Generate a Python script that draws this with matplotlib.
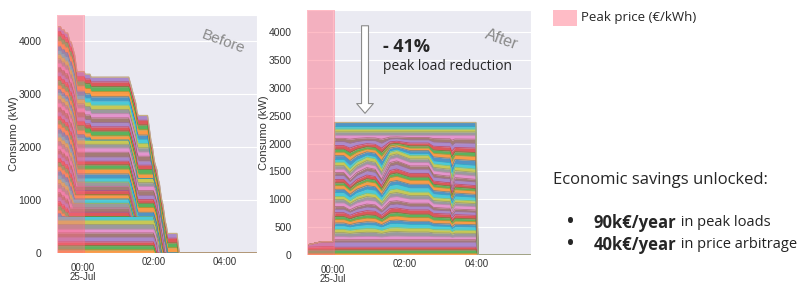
import matplotlib
matplotlib.use("Agg")
import matplotlib.pyplot as plt
from matplotlib.patches import Rectangle
import numpy as np
import seaborn as sns

# ---- Before: each charging session as (power kW, end hour rel. to 00:00), bottom -> top
before_power = [60, 80, 70, 90, 80, 70, 90, 80, 70,
                60, 60, 80, 80, 90, 80, 80, 90, 80, 80, 80, 80, 80, 80, 80, 80, 80, 80, 80, 75,
                80, 90, 80, 70, 80, 90, 80, 70, 80,
                50, 55,
                80, 90, 80, 80, 90, 80, 80, 80, 80, 80,
                100, 90, 90, 90]
before_end = [2.02, 2.05, 2.08, 2.10, 2.12, 2.14, 2.16, 2.18, 2.20,
              -0.62, -0.52, -0.42, 1.30, -0.38, 1.34, -0.34, 1.38, -0.30, 1.42, -0.27, 1.45,
              -0.24, 1.48, -0.22, 1.50, -0.20, 1.52, -0.19, 1.54,
              2.22, 2.24, 2.26, 2.28, 2.30, 2.32, 2.34, 2.36, 2.37,
              0.05, 0.20,
              2.00, 1.98, 1.96, 1.94, 1.92, 1.90, 1.88, 1.86, 1.85, 1.84,
              2.66, 2.68, 2.70, 2.72]

# ---- After: capped profile, layers shift around inside the cap
after_t = [-0.72, -0.3, 0.0, 0.05, 0.30, 0.47, 0.66, 0.94, 1.17, 1.35, 1.58, 1.77,
           2.14, 2.65, 2.79, 3.16, 3.25, 3.30, 3.39, 3.94, 3.97, 4.03, 5.5]
after_on = [0, 0, 0, 1, 1, 1, 1, 1, 1, 1, 1, 1, 1, 1, 1, 1, 1, 1, 1, 1, 1, 0, 0]
after_shift = [0, 0, 0, 0, 0, -120, 0, 90, 60, -120, 180, 210,
               120, 120, -30, -60, -60, -270, -90, -120, -120, 0, 0]
after_power = [30, 60, 50, 90, 45, 55, 70, 60, 65, 50,
               60, 55, 70, 60, 50, 65, 60, 55, 70, 60,
               65, 50, 60, 70, 55, 60, 65, 60, 50, 70,
               60, 55, 65, 70, 60, 55, 60, 50, 45, 75]
after_gain = [0] * 5 + [0.05] * 20 + [0] * 3 + [-0.125] * 8 + [0] * 4
after_pre = [[30, 60, 50, 40], [30, 60, 60, 90], [30, 60, 60, 90]]

peak_start, peak_end = -1.0, 0.05
tick_labels = ["00:00\n25-Jul", "02:00", "04:00"]

sns.set_style("darkgrid")
plt.rcParams["font.family"] = ["Liberation Sans", "DejaVu Sans"]
palette = list(plt.cm.tab10.colors)
PINK = "#ff6b81"
TXT = "Open Sans"


def draw_stack(ax, t, layers):
    colors = [palette[(i + 1) % 10] for i in range(len(layers))]
    ax.stackplot(t, layers, colors=colors, alpha=0.75, lw=0)
    tops = np.cumsum(layers, axis=0)
    for i, top in enumerate(tops):
        ax.plot(t, top, color=colors[i], lw=0.6, alpha=0.6)
    # blended outline of the whole stack
    ax.plot(t, tops[-1], color="#c8b07a", lw=0.9, alpha=0.9)


def style_axes(ax, xlim, ylim, yticks):
    ax.axvspan(peak_start, peak_end, color=PINK, alpha=0.45, lw=0, zorder=5)
    ax.set_xlim(*xlim)
    ax.set_ylim(*ylim)
    ax.set_yticks(yticks)
    ax.set_xticks([0])
    ax.set_xticklabels(tick_labels[:1], linespacing=0.95)
    ax.set_xticks([2, 4], minor=True)
    ax.set_xticklabels(tick_labels[1:], minor=True)
    ax.tick_params(axis="x", which="major", pad=7, labelsize=7, colors=".2", length=0)
    ax.tick_params(axis="x", which="minor", pad=3, labelsize=7, colors=".2", length=0)
    ax.tick_params(axis="y", pad=11, labelsize=7.5, colors=".2", length=0)
    ax.set_ylabel("Consumo (kW)", fontsize=8, color=".2", labelpad=0)


fig = plt.figure(figsize=(8, 2.84), dpi=100)

# Before
ax1 = fig.add_axes([57 / 800, 31 / 284, 200 / 800, 238 / 284])
t_b = np.arange(-0.74, 4.93 + 1e-9, 1 / 30)
before_layers = np.array([p * (t_b < e) for p, e in zip(before_power, before_end)])
draw_stack(ax1, t_b, before_layers)
style_axes(ax1, (-0.74, 4.93), (0, 4500), [0, 1000, 2000, 3000, 4000])
ax1.text(0.83, 0.885, "Before", transform=ax1.transAxes, rotation=-20, fontsize=11,
         color="#8a8a8a", ha="center", va="center")

# After
ax2 = fig.add_axes([307 / 800, 29 / 284, 224 / 800, 245 / 284])
t_a = np.array(after_t)
on = np.array(after_on, dtype=float)
after_layers = np.outer(on, after_power) + np.outer(on * np.array(after_shift), after_gain)
after_layers[:3, :4] = after_pre
draw_stack(ax2, t_a, after_layers.T)
style_axes(ax2, (-0.72, 5.5), (0, 4400), list(range(0, 4001, 500)))
ax2.text(0.87, 0.88, "After", transform=ax2.transAxes, rotation=-20, fontsize=11.5,
         color="#8a8a8a", ha="center", va="center", clip_on=True)
ax2.annotate("", xy=(0.259, 0.567), xytext=(0.259, 0.947), xycoords="axes fraction",
             arrowprops=dict(arrowstyle="simple,head_width=1.2,tail_width=0.5,head_length=0.7",
                             fc="white", ec="#8a8a8a", lw=0.8), zorder=6)
ax2.text(0.339, 0.849, "- 41%", transform=ax2.transAxes, fontsize=13, fontweight="bold",
         family=TXT, va="center", ha="left", zorder=6)
ax2.text(0.339, 0.771, "peak load reduction", transform=ax2.transAxes, fontsize=10,
         family=TXT, va="center", ha="left", zorder=6)

# right-hand text panel
axt = fig.add_axes([0, 0, 1, 1])
axt.axis("off")
axt.set_xlim(0, 800)
axt.set_ylim(284, 0)
axt.add_patch(Rectangle((553, 10), 24, 16, color=PINK, alpha=0.45, lw=0))
axt.text(581, 18, "Peak price (€/kWh)", fontsize=9.5, family=TXT, va="center", ha="left")
axt.text(553, 180, "Economic savings unlocked:", fontsize=12, family=TXT, va="center", ha="left")
for y, bold, rest in [(223, "90k€/year", " in peak loads"),
                      (245, "40k€/year", " in price arbitrage")]:
    axt.text(570, y, "•", fontsize=17, family=TXT, va="center", ha="center")
    t1 = axt.text(594, y, bold, fontsize=12, fontweight="bold", family=TXT, va="center", ha="left")
    axt.annotate(rest, xy=(1, 0.5), xycoords=t1, fontsize=10.5, family=TXT,
                 va="center", ha="left", color="#222222")

fig.savefig("out.png", dpi=100)
